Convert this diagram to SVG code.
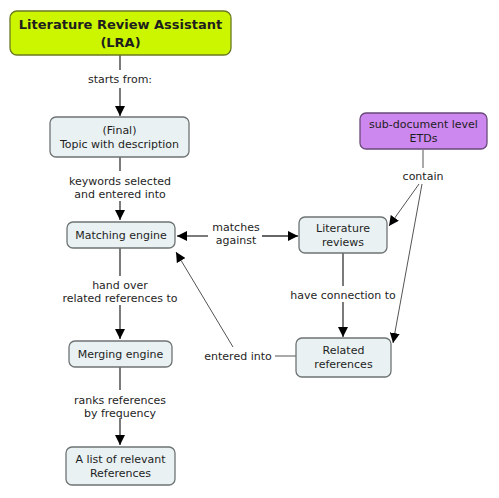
<svg xmlns="http://www.w3.org/2000/svg" width="499" height="498" viewBox="0 0 499 498">
<style>
.n{fill:#e9f1f2;stroke:#6e7373;stroke-width:1.3}
.t{font-family:"DejaVu Sans",Verdana,sans-serif;font-size:11px;fill:#1e1e1e;text-anchor:middle}
.b{font-weight:bold;font-size:13px}
.c{stroke:#333;stroke-width:1.3;fill:none}
.g{stroke:#555;stroke-width:1;fill:none}
</style>
<defs>
<marker id="a" viewBox="0 0 10 10" refX="10" refY="5" markerWidth="10" markerHeight="10" markerUnits="userSpaceOnUse" orient="auto">
<path d="M0,0L10,5L0,10z" fill="#000"/>
</marker>
</defs>
<rect width="499" height="498" fill="#fff"/>
<g id="connectors">
<line class="c" x1="120" y1="55" x2="120" y2="70"/>
<line class="c" x1="120" y1="88" x2="120" y2="116" marker-end="url(#a)"/>
<line class="c" x1="120" y1="157" x2="120" y2="171"/>
<line class="c" x1="120" y1="201" x2="120" y2="220" marker-end="url(#a)"/>
<line class="c" x1="208" y1="236" x2="177" y2="236" marker-end="url(#a)"/>
<line class="c" x1="262" y1="236" x2="298" y2="236" marker-end="url(#a)"/>
<line class="c" x1="120" y1="248" x2="120" y2="276"/>
<line class="c" x1="120" y1="305" x2="120" y2="339" marker-end="url(#a)"/>
<line class="c" x1="120" y1="367" x2="120" y2="390"/>
<line class="c" x1="120" y1="418" x2="120" y2="445" marker-end="url(#a)"/>
<line class="c" x1="343" y1="253" x2="343" y2="286"/>
<line class="c" x1="343" y1="302" x2="343" y2="337" marker-end="url(#a)"/>
<line class="g" x1="423" y1="150" x2="423" y2="168"/>
<line class="g" x1="419" y1="184" x2="389" y2="226" marker-end="url(#a)"/>
<line class="g" x1="422" y1="184" x2="393" y2="343" marker-end="url(#a)"/>
<line class="g" x1="275" y1="356" x2="296" y2="356"/>
<line class="g" x1="233" y1="347" x2="176" y2="252" marker-end="url(#a)"/>
</g>
<g id="labels">
<text class="t" x="120" y="83">starts from:</text>
<text class="t" x="120" y="185">keywords selected</text>
<text class="t" x="120" y="198">and entered into</text>
<text class="t" x="236" y="231">matches</text>
<text class="t" x="236" y="244">against</text>
<text class="t" x="120" y="289">hand over</text>
<text class="t" x="120" y="302">related references to</text>
<text class="t" x="120" y="404">ranks references</text>
<text class="t" x="120" y="417">by frequency</text>
<text class="t" x="343" y="299">have connection to</text>
<text class="t" x="423" y="180">contain</text>
<text class="t" x="238" y="360">entered into</text>
</g>
<g id="lra">
<rect x="10" y="11" width="221" height="44" rx="7" fill="#ccf500" stroke="#6b7a20" stroke-width="1.3"/>
<text class="t b" x="120.5" y="29">Literature Review Assistant</text>
<text class="t b" x="120.5" y="47">(LRA)</text>
</g>
<g id="topic">
<rect class="n" x="50" y="117" width="139" height="40" rx="6"/>
<text class="t" x="119.5" y="134">(Final)</text>
<text class="t" x="119.5" y="148">Topic with description</text>
</g>
<g id="matching">
<rect class="n" x="67" y="222" width="108" height="26" rx="6"/>
<text class="t" x="121" y="239">Matching engine</text>
</g>
<g id="merging">
<rect class="n" x="69" y="341" width="103" height="26" rx="6"/>
<text class="t" x="120.5" y="358">Merging engine</text>
</g>
<g id="list">
<rect class="n" x="66" y="447" width="109" height="38" rx="6"/>
<text class="t" x="120.5" y="463">A list of relevant</text>
<text class="t" x="120.5" y="477">References</text>
</g>
<g id="litrev">
<rect class="n" x="299" y="217" width="88" height="36" rx="6"/>
<text class="t" x="343" y="232">Literature</text>
<text class="t" x="343" y="246">reviews</text>
</g>
<g id="etds">
<rect x="360" y="113" width="127" height="36" rx="6" fill="#cc88ee" stroke="#6a4a7a" stroke-width="1.3"/>
<text class="t" x="423.5" y="128">sub-document level</text>
<text class="t" x="423.5" y="142">ETDs</text>
</g>
<g id="related">
<rect class="n" x="296" y="338" width="95" height="39" rx="6"/>
<text class="t" x="343.5" y="354">Related</text>
<text class="t" x="343.5" y="368">references</text>
</g>
</svg>
